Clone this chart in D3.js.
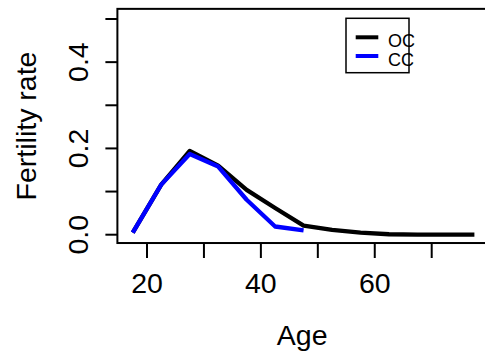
<!DOCTYPE html>
<html>
<head>
<meta charset="utf-8">
<script src="https://cdn.jsdelivr.net/npm/d3@7.9.0/dist/d3.min.js"></script>
<style>
  body { margin: 0; background: #fff; }
  svg { display: block; font-family: "Liberation Sans", Arial, sans-serif; }
</style>
</head>
<body>
<svg id="chart" width="485" height="355"></svg>
<script>
// ---------- DATA ----------
const ages = [17.5, 22.5, 27.5, 32.5, 37.5, 42.5, 47.5, 52.5, 57.5, 62.5, 67.5, 72.5, 77.5];
const ocRate = [0.005, 0.116, 0.194, 0.160, 0.104, 0.062, 0.021, 0.011, 0.005, 0.001, 0.0, 0.0, 0.0];
const ccAges = [17.5, 22.5, 27.5, 32.5, 37.5, 42.5, 47.5];
const ccRate = [0.005, 0.116, 0.187, 0.158, 0.081, 0.019, 0.010];
const xTicks = [20, 30, 40, 50, 60, 70];
const xLabels = [20, 40, 60];
const yTicks = [0, 0.1, 0.2, 0.3, 0.4, 0.5];
const yLabels = [0, 0.2, 0.4];
const seriesNames = ["OC", "CC"];
const seriesColors = ["#000000", "#0000ff"];

// ---------- SCALES ----------
const svg = d3.select("#chart");
const x = d3.scaleLinear().domain([20, 70]).range([147, 431.7]);
const y = d3.scaleLinear().domain([0, 0.5]).range([234.7, 19]);

// plot region (R style 4% padding)
const boxLeft = x(14.8), boxRight = x(79.9);
const boxTop = y(0.5235), boxBottom = y(-0.0193);

// ---------- LINES ----------
const line = d3.line().x(d => d[0]).y(d => d[1]);

svg.append("path")
    .datum(ages.map((a, i) => [x(a), y(ocRate[i])]))
    .attr("d", line)
    .attr("fill", "none")
    .attr("stroke", seriesColors[0])
    .attr("stroke-width", 4.3)
    .attr("stroke-linejoin", "round");

svg.append("path")
    .datum(ccAges.map((a, i) => [x(a), y(ccRate[i])]))
    .attr("d", line)
    .attr("fill", "none")
    .attr("stroke", seriesColors[1])
    .attr("stroke-width", 4.3)
    .attr("stroke-linejoin", "round");

// ---------- BOX ----------
svg.append("rect")
    .attr("x", boxLeft).attr("y", boxTop)
    .attr("width", boxRight - boxLeft).attr("height", boxBottom - boxTop)
    .attr("fill", "none").attr("stroke", "#000").attr("stroke-width", 2);

// ---------- X AXIS ----------
svg.selectAll(".xtick")
    .data(xTicks)
    .join("line")
    .attr("x1", d => x(d)).attr("x2", d => x(d))
    .attr("y1", boxBottom).attr("y2", boxBottom + 15)
    .attr("stroke", "#000").attr("stroke-width", 2);

svg.selectAll(".xlab")
    .data(xLabels)
    .join("text")
    .attr("x", d => x(d)).attr("y", 293)
    .attr("text-anchor", "middle")
    .attr("font-size", 28.5)
    .text(d => d);

svg.append("text")
    .attr("x", (boxLeft + 487) / 2).attr("y", 345)
    .attr("text-anchor", "middle")
    .attr("font-size", 28.5)
    .text("Age");

// ---------- Y AXIS ----------
svg.selectAll(".ytick")
    .data(yTicks)
    .join("line")
    .attr("x1", boxLeft - 12).attr("x2", boxLeft)
    .attr("y1", d => y(d)).attr("y2", d => y(d))
    .attr("stroke", "#000").attr("stroke-width", 2);

svg.selectAll(".ylab")
    .data(yLabels)
    .join("text")
    .attr("transform", d => `translate(88,${y(d)}) rotate(-90)`)
    .attr("text-anchor", "middle")
    .attr("font-size", 28.5)
    .text(d => d.toFixed(1));

svg.append("text")
    .attr("transform", `translate(36,126) rotate(-90)`)
    .attr("text-anchor", "middle")
    .attr("font-size", 28.5)
    .text("Fertility rate");

// ---------- LEGEND ----------
svg.append("rect")
    .attr("x", 346).attr("y", 18.3)
    .attr("width", 63).attr("height", 54.4)
    .attr("fill", "none").attr("stroke", "#000").attr("stroke-width", 1.5);

const legendY = [37.3, 56];
seriesNames.forEach((name, i) => {
    svg.append("line")
        .attr("x1", 355.7).attr("x2", 378.3)
        .attr("y1", legendY[i]).attr("y2", legendY[i])
        .attr("stroke", seriesColors[i]).attr("stroke-width", 4);
    svg.append("text")
        .attr("x", 388).attr("y", legendY[i] + 9.6)
        .attr("font-size", 18)
        .text(name);
});
</script>
</body>
</html>
